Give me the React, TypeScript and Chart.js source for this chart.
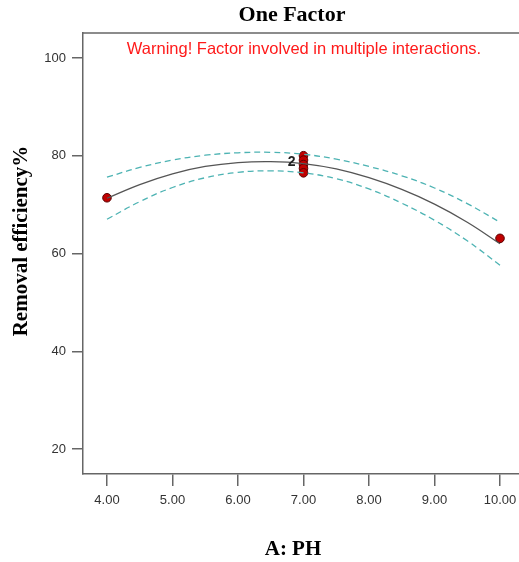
import React, { useEffect, useRef } from "react";
import { Chart, registerables } from "chart.js";

Chart.register(...registerables);

const curveX = [4, 4.5, 5, 5.5, 6, 6.5, 7, 7.5, 8, 8.5, 9, 9.5, 10];
const curveY = [71.3, 74.1, 76.3, 77.8, 78.6, 78.8, 78.4, 77.3, 75.5, 73.1, 70.1, 66.4, 62.0];
const upperY = [75.6, 77.6, 79.1, 80.1, 80.6, 80.7, 80.3, 79.3, 77.8, 75.9, 73.4, 70.2, 66.4];
const lowerY = [67.0, 70.6, 73.5, 75.5, 76.6, 76.9, 76.5, 75.3, 73.2, 70.3, 66.8, 62.6, 57.6];

const pointX = [4, 7, 7, 7, 7, 7, 10];
const pointY = [71.4, 80.0, 79.1, 78.2, 77.4, 76.5, 63.1];

const xTicks = [4, 5, 6, 7, 8, 9, 10];
const yTicks = [20, 40, 60, 80, 100];

const titleText = "One Factor";
const warningText = "Warning! Factor involved in multiple interactions.";
const xTitle = "A: PH";
const yTitle = "Removal efficiency%";
const repLabel = "2";
const repX = 7;
const repY = 78.6;

export default function App() {
  const ref = useRef<HTMLCanvasElement>(null);
  useEffect(() => {
    if (!ref.current) return;
    const toXY = (xs: number[], ys: number[]) => xs.map((x, i) => ({ x, y: ys[i] }));
    const textPlugin = {
      id: "texts",
      afterDraw(chart: any) {
        const { ctx, chartArea } = chart;
        ctx.save();
        ctx.strokeStyle = "#666";
        ctx.lineWidth = 1.5;
        ctx.beginPath();
        ctx.moveTo(chartArea.left, chartArea.top);
        ctx.lineTo(chartArea.right + 2, chartArea.top);
        ctx.stroke();
        ctx.fillStyle = "#000";
        ctx.textAlign = "center";
        ctx.textBaseline = "middle";
        ctx.font = "bold 22px 'Liberation Serif', serif";
        ctx.fillText(titleText, 292, 15);
        ctx.font = "bold 21px 'Liberation Serif', serif";
        ctx.fillText(xTitle, 293, 550);
        ctx.save();
        ctx.translate(22, 241);
        ctx.rotate(-Math.PI / 2);
        ctx.fillText(yTitle, 0, 0);
        ctx.restore();
        ctx.fillStyle = "#ff1a1a";
        ctx.font = "16.5px 'Liberation Sans', Arial, sans-serif";
        ctx.fillText(warningText, 304, 49);
        const xs = chart.scales.x;
        const ys = chart.scales.y;
        ctx.fillStyle = "#222";
        ctx.font = "bold 14px 'Liberation Sans', Arial, sans-serif";
        ctx.textAlign = "right";
        ctx.fillText(repLabel, xs.getPixelForValue(repX) - 8, ys.getPixelForValue(repY));
        ctx.restore();
      },
    };
    const chart = new Chart(ref.current, {
      type: "scatter",
      data: {
        datasets: [
          {
            data: toXY(curveX, upperY),
            showLine: true,
            borderColor: "#4db3b3",
            borderWidth: 1.3,
            borderDash: [6, 4],
            pointRadius: 0,
            tension: 0.4,
            fill: false,
          },
          {
            data: toXY(curveX, lowerY),
            showLine: true,
            borderColor: "#4db3b3",
            borderWidth: 1.3,
            borderDash: [6, 4],
            pointRadius: 0,
            tension: 0.4,
            fill: false,
          },
          {
            data: toXY(curveX, curveY),
            showLine: true,
            borderColor: "#555",
            borderWidth: 1.3,
            pointRadius: 0,
            tension: 0.4,
            fill: false,
          },
          {
            data: toXY(pointX, pointY),
            showLine: false,
            pointRadius: 4.3,
            pointBackgroundColor: "#c00000",
            pointBorderColor: "#5a0000",
            pointBorderWidth: 1,
          },
        ],
      },
      options: {
        animation: false,
        responsive: false,
        maintainAspectRatio: false,
        layout: { autoPadding: false, padding: { top: 33, left: 0, right: 0, bottom: 0 } },
        plugins: { legend: { display: false }, tooltip: { enabled: false }, title: { display: false } },
        scales: {
          x: {
            type: "linear",
            min: 3.634,
            max: 10.29,
            afterBuildTicks: (axis: any) => {
              axis.ticks = xTicks.map((v) => ({ value: v }));
            },
            afterFit: (scale: any) => {
              scale.height = 88;
              scale.paddingRight = 0;
              scale.paddingLeft = 0;
            },
            ticks: {
              autoSkip: false,
              maxRotation: 0,
              padding: 7,
              color: "#333",
              font: { family: "'Liberation Sans', Arial, sans-serif", size: 13 },
              callback: (v: any) => Number(v).toFixed(2),
            },
            grid: { drawOnChartArea: false, drawTicks: true, tickLength: 12, color: "#666", lineWidth: 1.5 },
            border: { display: true, color: "#666", width: 1.5 },
          },
          y: {
            type: "linear",
            min: 14.9,
            max: 105.1,
            afterBuildTicks: (axis: any) => {
              axis.ticks = yTicks.map((v) => ({ value: v }));
            },
            afterFit: (scale: any) => {
              scale.width = 83;
              scale.paddingTop = 0;
              scale.paddingBottom = 0;
            },
            ticks: {
              autoSkip: false,
              padding: 6,
              color: "#333",
              font: { family: "'Liberation Sans', Arial, sans-serif", size: 13 },
            },
            grid: { drawOnChartArea: false, drawTicks: true, tickLength: 11, color: "#666", lineWidth: 1.5 },
            border: { display: true, color: "#666", width: 1.5 },
          },
        },
      },
      plugins: [textPlugin],
    });
    return () => chart.destroy();
  }, []);
  return (
    <div style={{ position: "absolute", left: 0, top: 0, width: 519, height: 562, background: "#fff" }}>
      <canvas ref={ref} width={519} height={562} style={{ width: 519, height: 562, display: "block" }} />
    </div>
  );
}
